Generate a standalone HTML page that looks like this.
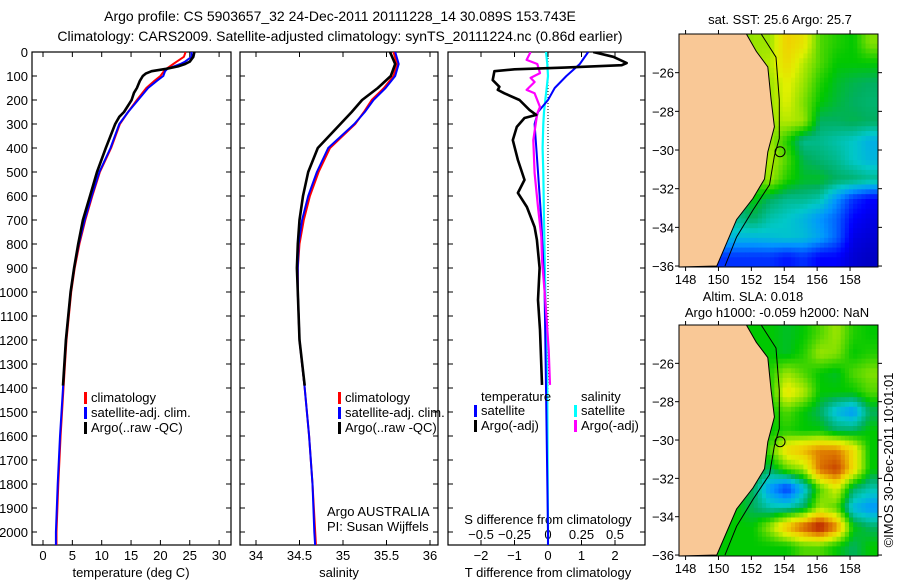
<!DOCTYPE html>
<html><head><meta charset="utf-8"><style>
html,body{margin:0;padding:0;background:#fff;}
svg{display:block;font-family:"Liberation Sans",Arial,sans-serif;}
</style></head><body>
<svg id="fig" width="900" height="580" viewBox="0 0 900 580" xmlns="http://www.w3.org/2000/svg">
<defs>
<clipPath id="c1"><rect x="32" y="52" width="199" height="493"/></clipPath>
<clipPath id="c2"><rect x="240" y="52" width="198" height="493"/></clipPath>
<clipPath id="c3"><rect x="448" y="52" width="197" height="493"/></clipPath>
<clipPath id="cm1"><rect x="679" y="34" width="199" height="233"/></clipPath>
<clipPath id="cm2"><rect x="679" y="325" width="199" height="231"/></clipPath>
</defs>
<text x="340" y="21" font-size="14" text-anchor="middle">Argo profile: CS 5903657_32 24-Dec-2011 20111228_14 30.089S 153.743E</text>
<text x="340" y="41" font-size="14" text-anchor="middle">Climatology: CARS2009. Satellite-adjusted climatology: synTS_20111224.nc (0.86d earlier)</text>
<g id="g1"></g>
<g id="g2"></g>
<g id="g3"></g>
<g id="m1"></g>
<g id="m2"></g>
<text x="780" y="24" font-size="13" text-anchor="middle">sat. SST: 25.6 Argo: 25.7</text>
<text x="753" y="301" font-size="13" text-anchor="middle">Altim. SLA: 0.018</text>
<text x="777" y="317" font-size="13" text-anchor="middle">Argo h1000: -0.059 h2000: NaN</text>
<text x="0" y="0" font-size="13" text-anchor="middle" transform="translate(893,460) rotate(-90)">©IMOS 30-Dec-2011 10:01:01</text>
</svg>
<script>
// ---- data ----
const depthT = [0,20,40,50,60,70,80,100,120,150,200,250,300,400,500,600,700,800,900,1000,1200,1400,1600,1800,2000,2060];
const tempClim = [24.3,24,22.8,22.2,21.6,21,20.6,20,19,17.6,16,14.5,13.1,11.6,9.7,8.4,7.2,6.2,5.4,4.8,4,3.5,3,2.6,2.3,2.3];
const tempSat  = [25.3,25.3,24.2,23.4,22.3,21.2,20.8,20.5,19.4,17.9,16.2,14.5,13,11.5,9.6,8.3,7.1,6.1,5.3,4.7,3.9,3.4,2.9,2.5,2.2,2.2];
const depthArgo = [0,20,40,50,60,70,80,90,100,120,150,170,200,250,270,300,400,500,600,700,800,900,1000,1200,1390];
const tempArgo = [25.8,25.6,25,24.2,23,21,18.5,17.5,17,16.5,16,15.5,15.1,13.8,13,12.3,10.7,9.2,8,6.8,6,5.3,4.7,3.9,3.4];
const depthS = [0,50,100,150,200,250,300,400,500,600,700,800,900,1000,1200,1400,1600,1800,2000,2060];
const salClim = [35.58,35.62,35.58,35.47,35.33,35.24,35.14,34.85,34.72,34.62,34.55,34.5,34.48,34.48,34.5,34.56,34.61,34.65,34.68,34.69];
const salSat  = [35.6,35.64,35.6,35.49,35.35,35.25,35.13,34.83,34.7,34.6,34.53,34.49,34.48,34.48,34.5,34.56,34.61,34.65,34.67,34.68];
const salArgo = [35.54,35.6,35.55,35.4,35.22,35.1,34.97,34.71,34.6,34.54,34.5,34.48,34.47,34.48,34.5,34.56];
const depthSA = [0,50,100,150,200,250,300,400,500,600,700,800,900,1000,1200,1390];
const depthD = [0,50,100,150,200,250,300,400,500,700,1000,1400,2000,2060];
const dTsat = [1.2,0.95,0.55,0.2,0,-0.3,-0.4,-0.35,-0.3,-0.2,-0.1,-0.06,0,0];
const dSsat = [-0.015,-0.005,0,-0.01,-0.02,-0.03,-0.035,-0.04,-0.035,-0.03,-0.02,-0.005,0,0];
const depthDA = [0,20,46,55,65,72,80,117,145,158,172,200,242,262,275,312,367,450,533,587,646,729,783,900,1033,1158,1387];
const dTargo = [1.35,1.95,2.35,2.2,0.5,-1.0,-1.6,-1.65,-1.45,-1.5,-1.3,-0.85,-0.55,-0.35,-0.7,-0.93,-1.05,-0.9,-0.7,-0.9,-0.63,-0.4,-0.33,-0.25,-0.3,-0.24,-0.18];
const depthDS = [0,33,50,88,108,125,158,172,229,255,367,504,646,770,867,1033,1117,1242,1387];
const dSargo = [-0.13,-0.16,-0.08,-0.06,-0.13,-0.1,-0.16,-0.1,-0.06,-0.08,-0.11,-0.1,-0.075,-0.05,-0.045,-0.02,-0.01,0.005,0.015];
const depthTicks = [0,100,200,300,400,500,600,700,800,900,1000,1100,1200,1300,1400,1500,1600,1700,1800,1900,2000];
const tTicks = [0,5,10,15,20,25,30];
const sTicks = [34,34.5,35,35.5,36];
const dTTicks = [-2,-1,0,1,2];
const dSTicks = [-0.5,-0.25,0,0.25,0.5];
const dSTickLabels = ['\u22120.5','\u22120.25','0','0.25','0.5'];
const lonTicks = [148,150,152,154,156,158];
const latTicks = [-26,-28,-30,-32,-34,-36];
const sstGrid = [
[.55,.55,.55,.55,.6,.6,.72,.68,.55,.52,.5,.58],
[.55,.55,.55,.55,.6,.62,.7,.62,.55,.5,.5,.5],
[.5,.5,.5,.5,.58,.6,.66,.6,.52,.48,.46,.45],
[.5,.5,.5,.5,.58,.6,.65,.58,.5,.47,.45,.44],
[.5,.5,.5,.5,.56,.6,.62,.6,.45,.45,.46,.45],
[.5,.5,.5,.5,.55,.6,.52,.42,.42,.4,.38,.34],
[.5,.5,.5,.5,.55,.62,.55,.46,.44,.42,.38,.35],
[.5,.5,.5,.5,.55,.6,.52,.48,.48,.45,.44,.42],
[.45,.45,.45,.45,.5,.45,.42,.42,.4,.3,.2,.15],
[.42,.42,.42,.42,.45,.4,.38,.35,.3,.25,.15,.12],
[.35,.35,.35,.35,.35,.36,.37,.36,.32,.25,.12,.1],
[.2,.2,.2,.2,.2,.2,.17,.2,.15,.15,.1,.08]];
const slaGrid = [
[.5,.5,.5,.5,.5,.5,.48,.5,.55,.6,.52,.5],
[.5,.5,.5,.5,.5,.5,.48,.52,.6,.58,.5,.52],
[.5,.5,.5,.5,.5,.52,.6,.55,.5,.48,.55,.58],
[.5,.5,.5,.5,.5,.52,.68,.62,.5,.5,.5,.55],
[.5,.5,.5,.5,.5,.5,.55,.5,.45,.35,.3,.45],
[.5,.5,.5,.5,.5,.5,.52,.5,.5,.45,.45,.5],
[.5,.5,.5,.5,.5,.55,.7,.75,.8,.8,.7,.5],
[.5,.5,.5,.5,.5,.45,.55,.6,.82,.88,.7,.5],
[.5,.5,.5,.5,.45,.3,.2,.35,.55,.65,.45,.4],
[.5,.5,.5,.5,.45,.4,.4,.45,.6,.55,.35,.3],
[.5,.5,.5,.5,.5,.6,.75,.85,.95,.8,.5,.45],
[.5,.5,.5,.5,.5,.5,.5,.55,.55,.5,.45,.5]];
const coastLon = [151.7,152.3,153.0,153.2,153.4,153.0,152.8,152.1,151.1,150.5,149.9];
const coastLat = [-24.0,-24.9,-25.7,-27.4,-28.8,-30.1,-31.5,-32.5,-33.6,-34.8,-36.0];
const shelfLon = [152.6,153.5,153.7,153.7,153.4,153.1,152.1,151.1,150.4];
const shelfLat = [-24.0,-25.2,-27.4,-29.4,-30.3,-31.8,-33.1,-34.5,-36.0];
const argoLon = 153.743, argoLat = -30.089;

// ---- helpers ----
const NS='http://www.w3.org/2000/svg';
function mk(parent,tag,attrs){const e=document.createElementNS(NS,tag);for(const k in attrs)e.setAttribute(k,attrs[k]);parent.appendChild(e);return e;}
const yD = d => 52 + 0.24*d;
const x1 = t => 43 + 5.87*t;
const x2 = s => 256 + 87*(s-34);
const x3T = v => 548 + 33.5*v;
const x3S = v => 548 + 134*v;
function pts(xs,ds,fx){return xs.map((v,i)=>fx(v).toFixed(1)+','+yD(ds[i]).toFixed(1)).join(' ');}
function line(g,xs,ds,fx,col,w,clip,name){
  const p=mk(g,'polyline',{points:pts(xs,ds,fx),fill:'none',stroke:col,'stroke-width':w,'clip-path':'url(#'+clip+')','stroke-linejoin':'round'});
  
  
}
function box(g,x0,x1_,name){
  const r=mk(g,'rect',{x:x0,y:52,width:x1_-x0,height:493,fill:'none',stroke:'#000','stroke-width':1.2});
  
  
  depthTicks.forEach(d=>{const y=yD(d);mk(g,'line',{x1:x0,x2:x0+5,y1:y,y2:y,stroke:'#000'});mk(g,'line',{x1:x1_-5,x2:x1_,y1:y,y2:y,stroke:'#000'});});
}
function xt(g,vals,fx,labels,y){
  vals.forEach((v,i)=>{const x=fx(v);mk(g,'line',{x1:x,x2:x,y1:545,y2:540,stroke:'#000'});mk(g,'line',{x1:x,x2:x,y1:52,y2:57,stroke:'#000'});
    if(labels){const t=mk(g,'text',{x:x,y:y,'font-size':13,'text-anchor':'middle'});t.textContent=labels[i];
    
    }});
}
function txt(g,x,y,s,name,anchor,size){const t=mk(g,'text',{x:x,y:y,'font-size':size||13,'text-anchor':anchor||'start'});t.textContent=s;
  
  return t;}
function legend(g,x,y,col,label,name){mk(g,'rect',{x:x,y:y-10,width:3,height:12,fill:col});txt(g,x+7,y,label,name);}

// ---- panel 1 ----
const g1=document.getElementById('g1');
box(g1,32,231,'temperature-axes');
depthTicks.forEach(d=>{const t=txt(g1,28,yD(d)+5,String(d),'depth-tick-label','end');});
xt(g1,tTicks,x1,tTicks.map(String),560);
txt(g1,131,577,'temperature (deg C)','temperature-axis-title','middle');
line(g1,tempClim,depthT,x1,'#ff0000',2,'c1','temp-climatology-line');
line(g1,tempSat,depthT,x1,'#0000ff',2,'c1','temp-satellite-line');
line(g1,tempArgo,depthArgo,x1,'#000',2.6,'c1','temp-argo-line');
legend(g1,84,402,'#ff0000','climatology','legend-climatology');
legend(g1,84,417,'#0000ff','satellite-adj. clim.','legend-satellite');
legend(g1,84,432,'#000','Argo(..raw -QC)','legend-argo');

// ---- panel 2 ----
const g2=document.getElementById('g2');
box(g2,240,438,'salinity-axes');
xt(g2,sTicks,x2,sTicks.map(String),560);
txt(g2,339,577,'salinity','salinity-axis-title','middle');
line(g2,salClim,depthS,x2,'#ff0000',2,'c2','sal-climatology-line');
line(g2,salSat,depthS,x2,'#0000ff',2,'c2','sal-satellite-line');
line(g2,salArgo,depthSA,x2,'#000',2.6,'c2','sal-argo-line');
legend(g2,338,402,'#ff0000','climatology','legend-climatology');
legend(g2,338,417,'#0000ff','satellite-adj. clim.','legend-satellite');
legend(g2,338,432,'#000','Argo(..raw -QC)','legend-argo');
txt(g2,327,516,'Argo AUSTRALIA','argo-australia-label');
txt(g2,327,531,'PI: Susan Wijffels','pi-label');

// ---- panel 3 ----
const g3=document.getElementById('g3');
box(g3,448,645,'difference-axes');
xt(g3,dTTicks,x3T,dTTicks.map(v=>v<0?'\u2212'+(-v):String(v)),560);
dSTicks.forEach((v,i)=>{txt(g3,x3S(v),539,dSTickLabels[i],'s-tick-label','middle');});
txt(g3,548,524,'S difference from climatology','s-axis-title','middle');
txt(g3,548,577,'T difference from climatology','t-axis-title','middle');
mk(g3,'line',{x1:548,x2:548,y1:52,y2:545,stroke:'#000','stroke-dasharray':'1,2'});
line(g3,dSsat,depthD,x3S,'#00ffff',2.2,'c3','s-satellite-diff-line');
line(g3,dTsat,depthD,x3T,'#0000ff',2,'c3','t-satellite-diff-line');
line(g3,dSargo,depthDS,x3S,'#ff00ff',2.2,'c3','s-argo-diff-line');
line(g3,dTargo,depthDA,x3T,'#000',2.6,'c3','t-argo-diff-line');
txt(g3,481,401,'temperature','legend-temperature-header');
legend(g3,474,415,'#0000ff','satellite','legend-t-satellite');
legend(g3,474,430,'#000','Argo(-adj)','legend-t-argo');
txt(g3,581,401,'salinity','legend-salinity-header');
legend(g3,574,415,'#00ffff','satellite','legend-s-satellite');
legend(g3,574,430,'#ff00ff','Argo(-adj)','legend-s-argo');

// ---- maps ----
const stops=[[0,[0,0,128]],[.15,[0,0,255]],[.3,[0,150,255]],[.38,[0,200,200]],[.45,[0,176,96]],[.5,[0,200,0]],[.58,[128,224,0]],[.65,[224,240,0]],[.72,[240,208,0]],[.8,[224,128,0]],[.9,[192,48,0]],[1,[160,0,0]]];
function cmap(v){for(let i=1;i<stops.length;i++){if(v<=stops[i][0]){const a=stops[i-1],b=stops[i],f=(v-a[0])/(b[0]-a[0]);return 'rgb('+a[1].map((c,k)=>Math.round(c+(b[1][k]-c)*f)).join(',')+')';}}return 'rgb(160,0,0)';}
function sample(grid,fr,fc){
  const rows=grid.length,cols=grid[0].length;
  const r=Math.min(Math.max(fr,0),rows-1),c=Math.min(Math.max(fc,0),cols-1);
  const r0=Math.floor(r),c0=Math.floor(c),r1=Math.min(r0+1,rows-1),c1=Math.min(c0+1,cols-1);
  const dr=r-r0,dc=c-c0;
  return grid[r0][c0]*(1-dr)*(1-dc)+grid[r0][c1]*(1-dr)*dc+grid[r1][c0]*dr*(1-dc)+grid[r1][c1]*dr*dc;
}
function drawMap(id,top,h,grid,clip,name){
  const g=document.getElementById(id);
  const L=679,W=199,lon0=147.6,lon1=159.7,lat0=-24.0,lat1=-36.05;
  const mx=lon=>L+(lon-lon0)/(lon1-lon0)*W;
  const my=lat=>top+(lat-lat0)/(lat1-lat0)*h;
  const rows=grid.length,cols=grid[0].length,sub=4;
  const cw=W/(cols*sub),ch=h/(rows*sub);
  for(let r=0;r<rows*sub;r++)for(let c=0;c<cols*sub;c++){
    const v=sample(grid,(r+0.5)/sub-0.5,(c+0.5)/sub-0.5);
    const cell=mk(g,'rect',{x:(L+c*cw).toFixed(2),y:(top+r*ch).toFixed(2),width:(cw+0.5).toFixed(2),height:(ch+0.5).toFixed(2),fill:cmap(v),'clip-path':'url(#'+clip+')'});
    
    
  }
  let landPts=mx(lon0)+','+my(lat0)+' '+coastLon.map((lo,i)=>mx(lo).toFixed(1)+','+my(coastLat[i]).toFixed(1)).join(' ')+' '+mx(lon0)+','+my(lat1);
  const land=mk(g,'polygon',{points:landPts,fill:'#f9c896',stroke:'#000','stroke-width':1,'clip-path':'url(#'+clip+')'});
  
  
  const shelf=mk(g,'polyline',{points:shelfLon.map((lo,i)=>mx(lo).toFixed(1)+','+my(shelfLat[i]).toFixed(1)).join(' '),fill:'none',stroke:'#000','stroke-width':1,'clip-path':'url(#'+clip+')'});
  
  
  const c=mk(g,'circle',{cx:mx(argoLon),cy:my(argoLat),r:5,fill:'none',stroke:'#000','stroke-width':1});
  
  
  const fr=mk(g,'rect',{x:L,y:top,width:W,height:h,fill:'none',stroke:'#000','stroke-width':1});
  
  
  lonTicks.forEach(lo=>{const x=mx(lo);mk(g,'line',{x1:x,x2:x,y1:top,y2:top-4,stroke:'#000'});mk(g,'line',{x1:x,x2:x,y1:top+h,y2:top+h+4,stroke:'#000'});
    txt(g,x,top+h+17,String(lo),'lon-tick-label','middle');});
  latTicks.forEach(la=>{const y=my(la);mk(g,'line',{x1:L,x2:L-4,y1:y,y2:y,stroke:'#000'});mk(g,'line',{x1:L+W,x2:L+W+4,y1:y,y2:y,stroke:'#000'});
    txt(g,L-5,y+5,'\u2212'+(-la),'lat-tick-label','end');});
}
drawMap('m1',34,233,sstGrid,'cm1','sst-map');
drawMap('m2',325,231,slaGrid,'cm2','sla-map');
</script>
</body></html>
